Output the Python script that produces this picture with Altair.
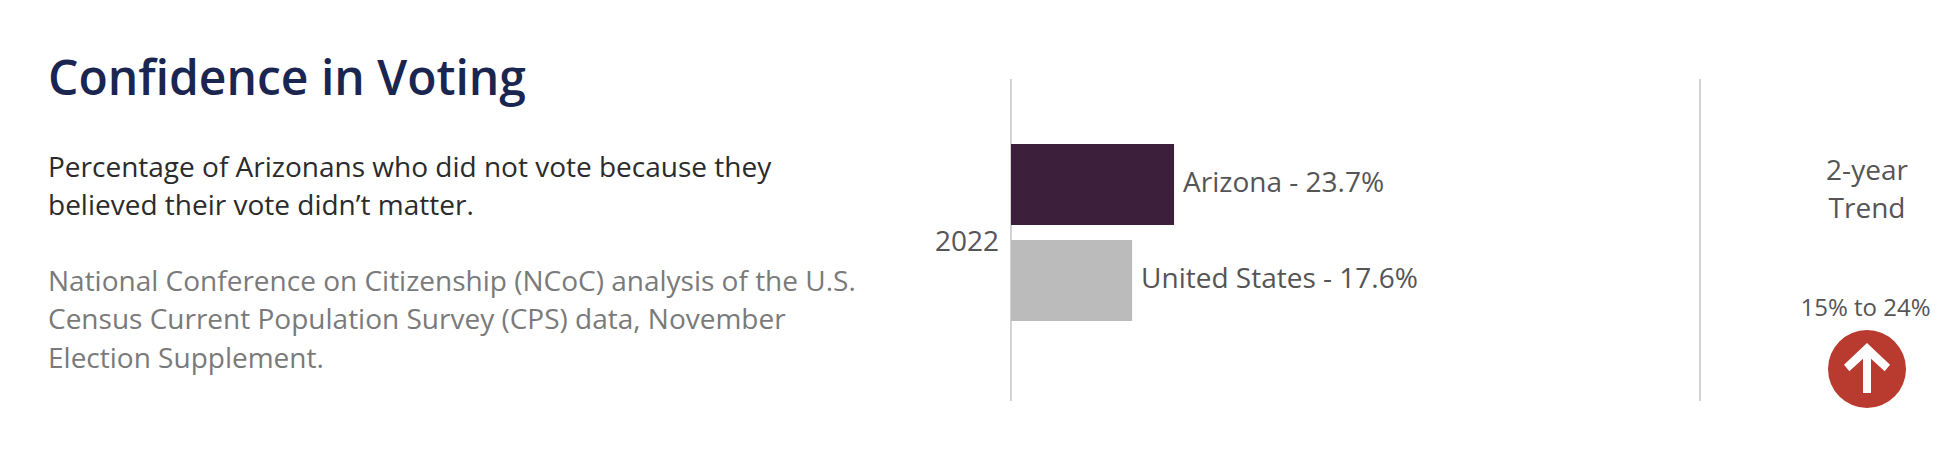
import altair as alt
import pandas as pd

FONT = "Open Sans"
series = ["Arizona", "United States"]
values = [23.7, 17.6]
bar_colors = ["#3b1f3b", "#bbbbbb"]
year = "2022"
title = "Confidence in Voting"
body_lines = ["Percentage of Arizonans who did not vote because they", "believed their vote didn’t matter."]
source_lines = ["National Conference on Citizenship (NCoC) analysis of the U.S.",
                "Census Current Population Survey (CPS) data, November",
                "Election Supplement."]
trend_lines = ["2-year", "Trend"]
trend_range = "15% to 24%"

M = 8  # page margin


def txt(s, x, y, size, color, align="left", weight=400):
    return alt.Chart(pd.DataFrame({"t": [s]})).mark_text(
        font=FONT, fontSize=size, color=color, align=align, baseline="alphabetic", fontWeight=weight
    ).encode(x=alt.value(x - M), y=alt.value(y - M), text="t:N")


df = pd.DataFrame({"series": series, "value": values})
df["label"] = [f"{s} - {v}%" for s, v in zip(series, values)]

xs = alt.Scale(domain=[0, 100], range=[1011 - M, 1011 - M + 688])
ys = alt.Scale(domain=series, range=[144 - M, 321 - M], paddingInner=0.156, paddingOuter=0)

bars = alt.Chart(df).mark_bar().encode(
    x=alt.X("value:Q", scale=xs, axis=None),
    y=alt.Y("series:N", scale=ys, axis=None),
    color=alt.Color("series:N", scale=alt.Scale(domain=series, range=bar_colors), legend=None),
)
labels = alt.Chart(df).mark_text(
    font=FONT, fontSize=28, color="#555555", align="left", baseline="alphabetic", dx=9, dy=7.5
).encode(
    x=alt.X("value:Q", scale=xs, axis=None),
    y=alt.Y("series:N", scale=ys, axis=None),
    text="label:N",
)


def vrule(x):
    return alt.Chart(pd.DataFrame({"a": [0]})).mark_rule(color="#d3d3d3", strokeWidth=2).encode(
        x=alt.value(x - M), y=alt.value(79 - M), y2=alt.value(401 - M)
    )


one = pd.DataFrame({"a": [0]})
circle = alt.Chart(one).mark_point(filled=True, shape="circle", size=6084, color="#b93a2e", opacity=1).encode(
    x=alt.value(1867 - M), y=alt.value(369 - M)
)
# arrow outline, in symbol units
arrow_path = ("M0,-0.5 L0.46,-0.067 L0.353,0.067 L0.08,-0.187 L0.08,0.5 L-0.08,0.5 "
              "L-0.08,-0.187 L-0.353,0.067 L-0.46,-0.067 Z")
arrow = alt.Chart(one).mark_point(filled=True, shape=arrow_path, size=10000, color="#ffffff", opacity=1).encode(
    x=alt.value(1867 - M), y=alt.value(368 - M)
)

layers = [vrule(1011), vrule(1700), bars, labels,
          txt(title, 48, 95, 48, "#1a2550", weight=600),
          txt(body_lines[0], 48, 177, 28, "#2b2b2b"),
          txt(body_lines[1], 48, 215, 28, "#2b2b2b"),
          txt(source_lines[0], 48, 291, 28, "#7a7a7a"),
          txt(source_lines[1], 48, 329, 28, "#7a7a7a"),
          txt(source_lines[2], 48, 368, 28, "#7a7a7a"),
          txt(year, 999, 251, 28, "#555555", align="right"),
          txt(trend_lines[0], 1867, 180, 28, "#555555", align="center"),
          txt(trend_lines[1], 1867, 218, 28, "#555555", align="center"),
          txt(trend_range, 1865.5, 316, 24, "#555555", align="center"),
          circle, arrow]

chart = alt.layer(*layers).properties(
    width=1936, height=442, padding=0, autosize=alt.AutoSizeParams(type="none"), background="white"
).configure_view(stroke=None)

chart.save("out.html", embed_options={"renderer": "svg", "actions": False})
